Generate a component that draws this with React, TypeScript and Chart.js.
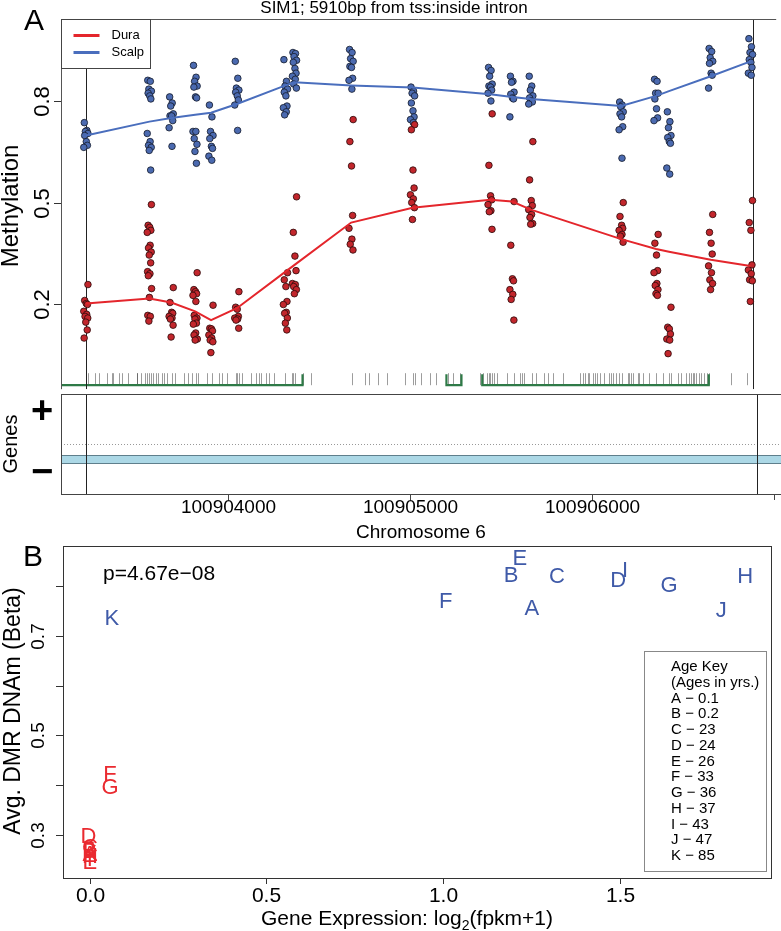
import React, { useEffect, useRef } from 'react';
import { Chart, registerables } from 'chart.js';

Chart.register(...registerables);

const FONT = '"Liberation Sans", Arial, Helvetica, sans-serif';

// ---------------- Panel A data ----------------
const TITLE_A = 'SIM1; 5910bp from tss:inside intron';
const X_LABEL_A = 'Chromosome 6';
const Y_LABEL_A = 'Methylation';
const GENES_LABEL = 'Genes';
const TISSUES = ['Dura', 'Scalp'];

const CPG_SITES = [
  100903220, 100903571, 100903692, 100903824, 100903912, 100904055, 100904324, 100904374, 100904687,
  100905027, 100905456, 100905577, 100905681, 100906181, 100906374, 100906445, 100906676, 100906896,
];

const SCALP_VALUES: number[][] = [
  [0.736, 0.713, 0.710, 0.704, 0.698, 0.680, 0.669, 0.663],
  [0.861, 0.858, 0.835, 0.829, 0.823, 0.815, 0.806, 0.704, 0.680, 0.669, 0.663, 0.654, 0.596],
  [0.812, 0.794, 0.785, 0.762, 0.756, 0.756, 0.742, 0.721, 0.666],
  [0.905, 0.870, 0.858, 0.844, 0.841, 0.812, 0.809, 0.710, 0.710, 0.689, 0.672, 0.651, 0.616],
  [0.788, 0.753, 0.710, 0.698, 0.689, 0.666, 0.660, 0.637, 0.625],
  [0.917, 0.867, 0.838, 0.832, 0.826, 0.815, 0.803, 0.788, 0.713],
  [0.922, 0.858, 0.844, 0.835, 0.826, 0.815, 0.785, 0.780, 0.768, 0.759],
  [0.943, 0.940, 0.931, 0.920, 0.914, 0.896, 0.882, 0.873, 0.864, 0.850, 0.838],
  [0.952, 0.943, 0.925, 0.917, 0.902, 0.899, 0.867, 0.861, 0.835],
  [0.841, 0.829, 0.823, 0.815, 0.794, 0.771, 0.753, 0.745, 0.736],
  [0.899, 0.890, 0.873, 0.850, 0.844, 0.841, 0.832, 0.823, 0.800],
  [0.873, 0.858, 0.855, 0.826, 0.820, 0.809, 0.806, 0.753],
  [0.873, 0.844, 0.832, 0.815, 0.809, 0.800, 0.797, 0.791],
  [0.797, 0.788, 0.783, 0.768, 0.762, 0.753, 0.724, 0.715, 0.631],
  [0.864, 0.858, 0.823, 0.823, 0.806, 0.777, 0.750, 0.742],
  [0.768, 0.739, 0.721, 0.698, 0.692, 0.680, 0.675, 0.602, 0.584],
  [0.955, 0.946, 0.928, 0.917, 0.911, 0.882, 0.876, 0.838],
  [0.984, 0.960, 0.943, 0.937, 0.922, 0.914, 0.899, 0.882, 0.876],
];

const DURA_VALUES: number[][] = [
  [0.258, 0.211, 0.202, 0.199, 0.179, 0.170, 0.164, 0.159, 0.147, 0.124, 0.100],
  [0.494, 0.433, 0.427, 0.418, 0.412, 0.374, 0.366, 0.354, 0.345, 0.322, 0.296, 0.290, 0.284, 0.246, 0.220, 0.167, 0.164, 0.150],
  [0.249, 0.205, 0.176, 0.173, 0.164, 0.159, 0.156, 0.138, 0.103],
  [0.293, 0.243, 0.237, 0.231, 0.226, 0.208, 0.167, 0.159, 0.156, 0.144, 0.141, 0.115, 0.109, 0.097, 0.094],
  [0.197, 0.129, 0.127, 0.121, 0.109, 0.100, 0.094, 0.089, 0.057],
  [0.237, 0.191, 0.185, 0.164, 0.159, 0.156, 0.153, 0.129],
  [0.293, 0.272, 0.252, 0.208, 0.199, 0.176, 0.173, 0.159, 0.144, 0.124],
  [0.517, 0.412, 0.342, 0.299, 0.261, 0.258, 0.252, 0.243, 0.231],
  [0.745, 0.680, 0.608, 0.462, 0.424, 0.392, 0.377, 0.360],
  [0.730, 0.715, 0.596, 0.543, 0.523, 0.511, 0.500, 0.485, 0.450],
  [0.762, 0.610, 0.520, 0.508, 0.494, 0.476, 0.473, 0.421],
  [0.503, 0.374, 0.275, 0.269, 0.243, 0.229, 0.214, 0.153],
  [0.680, 0.567, 0.506, 0.491, 0.479, 0.465, 0.456, 0.438, 0.436],
  [0.500, 0.459, 0.433, 0.424, 0.418, 0.406, 0.401, 0.383],
  [0.406, 0.380, 0.345, 0.299, 0.293, 0.261, 0.255, 0.243, 0.231, 0.226],
  [0.191, 0.132, 0.127, 0.112, 0.097, 0.094, 0.054],
  [0.465, 0.412, 0.380, 0.348, 0.313, 0.293, 0.272, 0.261, 0.243],
  [0.506, 0.441, 0.418, 0.316, 0.301, 0.290, 0.272, 0.269, 0.208],
];

const SCALP_SMOOTH = [0.698, 0.739, 0.750, 0.759, 0.765, 0.791, 0.846, 0.855, 0.846, 0.840, 0.820, 0.812, 0.806, 0.785, 0.815, 0.829, 0.873, 0.917];
const DURA_SMOOTH = [0.202, 0.217, 0.205, 0.179, 0.153, 0.188, 0.296, 0.316, 0.441, 0.485, 0.508, 0.503, 0.479, 0.392, 0.363, 0.355, 0.331, 0.313];

const RUG_SITES = [
  100903231, 100903269, 100903291, 100903335, 100903363, 100903368, 100903401, 100903418, 100903451, 100903500,
  100903505, 100903527, 100903544, 100903560, 100903571, 100903582, 100903593, 100903610, 100903621, 100903643,
  100903654, 100903670, 100903698, 100903714, 100903764, 100903786, 100903808, 100903830, 100903841, 100903890,
  100903918, 100903956, 100903973, 100904000, 100904049, 100904055, 100904066, 100904082, 100904132, 100904159,
  100904176, 100904187, 100904214, 100904231, 100904258, 100904319, 100904357, 100904368, 100904379, 100904418,
  100904467, 100904692, 100904764, 100904786, 100904835, 100904885, 100904984, 100905027, 100905038, 100905071,
  100905121, 100905159, 100905220, 100905253, 100905291, 100905401, 100905418, 100905440, 100905451, 100905456,
  100905467, 100905478, 100905495, 100905549, 100905588, 100905621, 100905632, 100905643, 100905687, 100905709,
  100905753, 100905775, 100905802, 100905857, 100905951, 100905967, 100905978, 100905995, 100906005, 100906022,
  100906033, 100906049, 100906066, 100906088, 100906115, 100906126, 100906137, 100906154, 100906170, 100906187,
  100906220, 100906225, 100906236, 100906247, 100906275, 100906280, 100906302, 100906335, 100906374, 100906412,
  100906445, 100906456, 100906495, 100906511, 100906538, 100906555, 100906566, 100906577, 100906582, 100906593,
  100906610, 100906621, 100906637, 100906654, 100906665, 100906786, 100906879,
];

const ISLAND_STARTS = [100902500, 100905214, 100905412];
const ISLAND_ENDS = [100904418, 100905297, 100906665];
const DMR_BOUNDS = [100903220, 100906907];
const GENE_START = 100836750;
const GENE_END = 100911551;
const GENE_STRAND = '-';

const X_TICKS_A = [100904000, 100905000, 100906000, 100907000];
const X_TICK_LABELS_A = ['100904000', '100905000', '100906000', ''];
const Y_TICKS_A = [0.2, 0.5, 0.8];
const X_MIN_A = 100903082;
const X_MAX_A = 100907038;
const Y_MIN_A = -0.051;
const Y_MAX_A = 1.042;

// small horizontal spread of replicate points (bp)
const JITTER_BP = [-9, 5, -3, 11, -7, 2, 8, -12, 4, -5, 10, -1, 7, -10, 3, -6, 12, 0];

// ---------------- Panel B data ----------------
const SAMPLES = ['A', 'B', 'C', 'D', 'E', 'F', 'G', 'H', 'I', 'J', 'K'];
const AGES = ['0.1', '0.2', '23', '24', '26', '33', '36', '37', '43', '47', '85'];
const SCALP_EXPR = [1.252, 1.193, 1.323, 1.496, 1.218, 1.008, 1.640, 1.856, 1.516, 1.788, 0.062];
const SCALP_DNAM = [0.756, 0.822, 0.820, 0.812, 0.856, 0.770, 0.802, 0.820, 0.832, 0.752, 0.736];
const DURA_EXPR = [0.0, 0.0, 0.0, -0.004, 0.0, 0.057, 0.057, 0.0, 0.0, 0.0, 0.0];
const DURA_DNAM = [0.262, 0.268, 0.276, 0.298, 0.246, 0.422, 0.396, 0.258, 0.252, 0.270, 0.265];
const P_VALUE_TEXT = 'p=4.67e\u221208';
const X_LABEL_B = ['Gene Expression: log', '2', '(fpkm+1)'];
const Y_LABEL_B = 'Avg. DMR DNAm (Beta)';
const KEY_TITLE = ['Age Key', '(Ages in yrs.)'];
const X_TICKS_B = [0, 0.5, 1.0, 1.5];
const X_TICK_LABELS_B = ['0.0', '0.5', '1.0', '1.5'];
const Y_TICKS_B = [0.3, 0.4, 0.5, 0.6, 0.7, 0.8];
const Y_TICK_LABELS_B = ['0.3', '', '0.5', '', '0.7', ''];
const X_MIN_B = -0.076;
const X_MAX_B = 1.929;
const Y_MIN_B = 0.214;
const Y_MAX_B = 0.88;

// ---------------- styles ----------------
const RED_LINE = '#e4262c';
const BLUE_LINE = '#4a6ebd';
const RED_PT = '#c2262c';
const BLUE_PT = '#4b6ab0';
const RED_TXT = '#ea2a30';
const BLUE_TXT = '#3f5aa8';

function rotText(ctx: CanvasRenderingContext2D, text: string, x: number, y: number, font: string) {
  ctx.save();
  ctx.translate(x, y);
  ctx.rotate(-Math.PI / 2);
  ctx.font = font;
  ctx.textAlign = 'center';
  ctx.textBaseline = 'middle';
  ctx.fillText(text, 0, 0);
  ctx.restore();
}

function hline(ctx: CanvasRenderingContext2D, x1: number, x2: number, y: number) {
  ctx.beginPath();
  ctx.moveTo(x1, y);
  ctx.lineTo(x2, y);
  ctx.stroke();
}
function vline(ctx: CanvasRenderingContext2D, x: number, y1: number, y2: number) {
  ctx.beginPath();
  ctx.moveTo(x, y1);
  ctx.lineTo(x, y2);
  ctx.stroke();
}

const panelAPlugin = {
  id: 'panelA',
  beforeDatasetsDraw(chart: any) {
    const { ctx, chartArea: ca } = chart;
    const xs = chart.scales.x;
    ctx.save();
    ctx.beginPath();
    ctx.rect(ca.left, ca.top, ca.right - ca.left, ca.bottom - ca.top);
    ctx.clip();
    ctx.strokeStyle = 'rgba(60,60,60,0.5)';
    ctx.lineWidth = 1;
    for (const p of RUG_SITES) {
      const x = Math.round(xs.getPixelForValue(p)) + 0.5;
      vline(ctx, x, ca.bottom - 16, ca.bottom - 4);
    }
    ctx.strokeStyle = '#2e7a47';
    ctx.lineWidth = 2.2;
    ISLAND_STARTS.forEach((s, i) => {
      const x1 = xs.getPixelForValue(s);
      const x2 = xs.getPixelForValue(ISLAND_ENDS[i]);
      ctx.beginPath();
      ctx.moveTo(x1, ca.bottom - 15);
      ctx.lineTo(x1, ca.bottom - 4);
      ctx.lineTo(x2, ca.bottom - 4);
      ctx.lineTo(x2, ca.bottom - 15);
      ctx.stroke();
    });
    ctx.strokeStyle = '#222';
    ctx.lineWidth = 1;
    for (const d of DMR_BOUNDS) {
      const x = Math.round(xs.getPixelForValue(d)) + 0.5;
      vline(ctx, x, ca.top, ca.bottom);
    }
    ctx.restore();
  },
  afterDraw(chart: any) {
    const { ctx, chartArea: ca } = chart;
    const ys = chart.scales.y;
    ctx.save();
    ctx.strokeStyle = '#555';
    ctx.lineWidth = 1;
    vline(ctx, ca.left + 0.5, ca.top, ca.bottom);
    hline(ctx, ca.left, ca.right, ca.top + 0.5);
    ctx.fillStyle = '#000';
    // title
    ctx.font = `17px ${FONT}`;
    ctx.textAlign = 'center';
    ctx.textBaseline = 'middle';
    ctx.fillText(TITLE_A, 394, 8);
    // panel letter
    ctx.font = `30px ${FONT}`;
    ctx.fillText('A', 34, 22);
    // y label
    rotText(ctx, Y_LABEL_A, 11, 206, `24px ${FONT}`);
    // y ticks
    ctx.strokeStyle = '#333';
    for (const v of Y_TICKS_A) {
      const y = Math.round(ys.getPixelForValue(v)) + 0.5;
      hline(ctx, ca.left - 7, ca.left, y);
      rotText(ctx, v.toFixed(1), 43, y, `22px ${FONT}`);
    }
    // legend
    const lx = ca.left + 0.5, ly = ca.top + 0.5;
    ctx.fillStyle = '#fff';
    ctx.fillRect(lx, ly, 89, 49);
    ctx.strokeStyle = '#444';
    ctx.strokeRect(lx, ly, 89, 49);
    const colors = [RED_LINE, BLUE_LINE];
    TISSUES.forEach((t, i) => {
      const yy = ly + 16 + i * 17;
      ctx.strokeStyle = colors[i];
      ctx.lineWidth = 3;
      hline(ctx, lx + 12, lx + 38, yy);
      ctx.fillStyle = '#000';
      ctx.font = `13px ${FONT}`;
      ctx.textAlign = 'left';
      ctx.textBaseline = 'middle';
      ctx.fillText(t, lx + 50, yy);
    });
    ctx.restore();
  },
};

const genesPlugin = {
  id: 'genes',
  afterDraw(chart: any) {
    const { ctx, chartArea: ca } = chart;
    const xs = chart.scales.x;
    const ys = chart.scales.y;
    ctx.save();
    // dotted strand separator
    ctx.strokeStyle = '#999';
    ctx.lineWidth = 1;
    ctx.setLineDash([1, 2]);
    hline(ctx, ca.left + 3, ca.right, Math.round(ys.getPixelForValue(0.5)) + 0.5);
    ctx.setLineDash([]);
    // gene band (minus strand -> lower half)
    const x1 = Math.max(ca.left, xs.getPixelForValue(GENE_START));
    const x2 = Math.min(ca.right, xs.getPixelForValue(GENE_END));
    const yTop = GENE_STRAND === '-' ? ys.getPixelForValue(0.39) : ys.getPixelForValue(0.7);
    const yBot = GENE_STRAND === '-' ? ys.getPixelForValue(0.3) : ys.getPixelForValue(0.61);
    ctx.fillStyle = '#acd8e6';
    ctx.fillRect(x1, yTop, x2 - x1, yBot - yTop);
    ctx.strokeStyle = '#5f7f8c';
    hline(ctx, x1, x2, Math.round(yTop) + 0.5);
    hline(ctx, x1, x2, Math.round(yBot) - 0.5);
    // DMR bounds
    ctx.strokeStyle = '#222';
    for (const d of DMR_BOUNDS) {
      const x = Math.round(xs.getPixelForValue(d)) + 0.5;
      vline(ctx, x, ca.top, ca.bottom);
    }
    // box
    ctx.strokeStyle = '#444';
    vline(ctx, ca.left + 0.5, ca.top, ca.bottom);
    hline(ctx, ca.left, ca.right, ca.top + 0.5);
    hline(ctx, ca.left, ca.right, ca.bottom + 0.5);
    // x axis
    ctx.fillStyle = '#000';
    ctx.font = `19px ${FONT}`;
    ctx.textAlign = 'center';
    ctx.textBaseline = 'middle';
    X_TICKS_A.forEach((t, i) => {
      const x = Math.round(xs.getPixelForValue(t)) + 0.5;
      vline(ctx, x, ca.bottom, ca.bottom + 6);
      if (X_TICK_LABELS_A[i]) ctx.fillText(X_TICK_LABELS_A[i], x, ca.bottom + 14);
    });
    ctx.fillText(X_LABEL_A, (ca.left + ca.right) / 2, ca.bottom + 39);
    // strand labels
    rotText(ctx, GENES_LABEL, 11, 50, `20px ${FONT}`);
    ctx.font = `bold 38px ${FONT}`;
    ctx.textAlign = 'center';
    ctx.textBaseline = 'middle';
    ctx.fillText('+', 42, 19);
    ctx.fillText('\u2212', 42, 80);
    ctx.restore();
  },
};

const panelBPlugin = {
  id: 'panelB',
  afterDatasetsDraw(chart: any) {
    const { ctx } = chart;
    const labelsets = [SAMPLES, SAMPLES];
    const colors = [RED_TXT, BLUE_TXT];
    ctx.save();
    ctx.font = `22px ${FONT}`;
    ctx.textAlign = 'center';
    ctx.textBaseline = 'middle';
    chart.data.datasets.forEach((_ds: any, di: number) => {
      const meta = chart.getDatasetMeta(di);
      ctx.fillStyle = colors[di];
      meta.data.forEach((el: any, j: number) => {
        ctx.fillText(labelsets[di][j], el.x, el.y + 1);
      });
    });
    ctx.restore();
  },
  afterDraw(chart: any) {
    const { ctx, chartArea: ca } = chart;
    const xs = chart.scales.x;
    const ys = chart.scales.y;
    ctx.save();
    ctx.strokeStyle = '#333';
    ctx.lineWidth = 1;
    ctx.strokeRect(ca.left + 0.5, ca.top + 0.5, ca.right - ca.left, ca.bottom - ca.top);
    ctx.fillStyle = '#000';
    ctx.textAlign = 'center';
    ctx.textBaseline = 'middle';
    ctx.font = `21px ${FONT}`;
    X_TICKS_B.forEach((t, i) => {
      const x = Math.round(xs.getPixelForValue(t)) + 0.5;
      vline(ctx, x, ca.bottom, ca.bottom + 6);
      ctx.fillText(X_TICK_LABELS_B[i], x, ca.bottom + 18);
    });
    Y_TICKS_B.forEach((t, i) => {
      const y = Math.round(ys.getPixelForValue(t)) + 0.5;
      hline(ctx, ca.left - 7, ca.left, y);
      if (Y_TICK_LABELS_B[i]) rotText(ctx, Y_TICK_LABELS_B[i], 38.5, y, `19px ${FONT}`);
    });
    // panel letter
    ctx.font = `30px ${FONT}`;
    ctx.fillText('B', 33, 14);
    // p value
    ctx.font = `21px ${FONT}`;
    ctx.textAlign = 'left';
    ctx.fillText(P_VALUE_TEXT, 103, 30);
    // axis titles
    rotText(ctx, Y_LABEL_B, 14, 167, `23px ${FONT}`);
    const big = `21px ${FONT}`;
    const small = `14px ${FONT}`;
    ctx.font = big;
    const w0 = ctx.measureText(X_LABEL_B[0]).width;
    const w2 = ctx.measureText(X_LABEL_B[2]).width;
    ctx.font = small;
    const w1 = ctx.measureText(X_LABEL_B[1]).width;
    let sx = 407 - (w0 + w1 + w2) / 2;
    const base = 381;
    ctx.textBaseline = 'alphabetic';
    ctx.textAlign = 'left';
    ctx.font = big;
    ctx.fillText(X_LABEL_B[0], sx, base);
    sx += w0;
    ctx.font = small;
    ctx.fillText(X_LABEL_B[1], sx, base + 5);
    sx += w1;
    ctx.font = big;
    ctx.fillText(X_LABEL_B[2], sx, base);
    // age key
    ctx.fillStyle = '#fff';
    ctx.fillRect(644.5, 107.5, 122, 220);
    ctx.strokeStyle = '#888';
    ctx.strokeRect(644.5, 107.5, 122, 220);
    ctx.fillStyle = '#000';
    ctx.font = `15px ${FONT}`;
    ctx.textBaseline = 'middle';
    const lines = [...KEY_TITLE, ...SAMPLES.map((s, i) => `${s} \u2212 ${AGES[i]}`)];
    lines.forEach((l, i) => ctx.fillText(l, 671, 123 + i * 15.75));
    ctx.restore();
  },
};

function yAxisFixed(width: number, min: number, max: number) {
  return {
    type: 'linear' as const,
    min,
    max,
    display: true,
    grid: { display: false },
    border: { display: false },
    ticks: { display: false },
    afterFit: (s: any) => {
      s.width = width;
    },
  };
}

export default function App() {
  const refA = useRef<HTMLCanvasElement>(null);
  const refG = useRef<HTMLCanvasElement>(null);
  const refB = useRef<HTMLCanvasElement>(null);

  useEffect(() => {
    const charts: Chart[] = [];
    const scalpPts: { x: number; y: number }[] = [];
    const duraPts: { x: number; y: number }[] = [];
    CPG_SITES.forEach((pos, i) => {
      SCALP_VALUES[i].forEach((v, j) => scalpPts.push({ x: pos + JITTER_BP[j % JITTER_BP.length], y: v }));
      DURA_VALUES[i].forEach((v, j) => duraPts.push({ x: pos + JITTER_BP[(j + 3) % JITTER_BP.length], y: v }));
    });
    const common = {
      responsive: false,
      animation: false as const,
      devicePixelRatio: 1,
      events: [] as any[],
      plugins: { legend: { display: false }, tooltip: { enabled: false }, title: { display: false } },
    };

    charts.push(
      new Chart(refA.current!, {
        type: 'scatter',
        data: {
          datasets: [
            {
              label: 'Dura smooth',
              data: CPG_SITES.map((x, i) => ({ x, y: DURA_SMOOTH[i] })),
              showLine: true,
              borderColor: RED_LINE,
              borderWidth: 2,
              pointRadius: 0,
            },
            {
              label: 'Scalp smooth',
              data: CPG_SITES.map((x, i) => ({ x, y: SCALP_SMOOTH[i] })),
              showLine: true,
              borderColor: BLUE_LINE,
              borderWidth: 2,
              pointRadius: 0,
            },
            {
              label: 'Dura',
              data: duraPts,
              pointRadius: 3.3,
              pointBackgroundColor: RED_PT,
              pointBorderColor: '#2a0a0a',
              pointBorderWidth: 0.8,
            },
            {
              label: 'Scalp',
              data: scalpPts,
              pointRadius: 3.3,
              pointBackgroundColor: BLUE_PT,
              pointBorderColor: '#141a2a',
              pointBorderWidth: 0.8,
            },
          ],
        },
        options: {
          ...common,
          layout: { padding: { top: 19, left: 0, right: 0, bottom: 0 } },
          scales: {
            x: { type: 'linear', min: X_MIN_A, max: X_MAX_A, display: false },
            y: yAxisFixed(61, Y_MIN_A, Y_MAX_A),
          },
        } as any,
        plugins: [panelAPlugin],
      })
    );

    charts.push(
      new Chart(refG.current!, {
        type: 'scatter',
        data: { datasets: [] },
        options: {
          ...common,
          layout: { padding: { top: 0, left: 0, right: 0, bottom: 50 } },
          scales: {
            x: { type: 'linear', min: X_MIN_A, max: X_MAX_A, display: false },
            y: yAxisFixed(61, 0, 1),
          },
        } as any,
        plugins: [genesPlugin],
      })
    );

    charts.push(
      new Chart(refB.current!, {
        type: 'scatter',
        data: {
          datasets: [
            { label: 'Dura', data: DURA_EXPR.map((x, i) => ({ x, y: DURA_DNAM[i] })), pointRadius: 0 },
            { label: 'Scalp', data: SCALP_EXPR.map((x, i) => ({ x, y: SCALP_DNAM[i] })), pointRadius: 0 },
          ],
        },
        options: {
          ...common,
          layout: { padding: { top: 2, left: 0, right: 10, bottom: 53 } },
          scales: {
            x: { type: 'linear', min: X_MIN_B, max: X_MAX_B, display: false },
            y: yAxisFixed(63, Y_MIN_B, Y_MAX_B),
          },
        } as any,
        plugins: [panelBPlugin],
      })
    );

    return () => charts.forEach((c) => c.destroy());
  }, []);

  return (
    <div style={{ position: 'absolute', left: 0, top: 0, width: 781, height: 931, background: '#fff', overflow: 'hidden' }}>
      <canvas ref={refA} width={781} height={394} style={{ position: 'absolute', left: 0, top: 0 }} />
      <canvas ref={refG} width={781} height={150} style={{ position: 'absolute', left: 0, top: 394 }} />
      <canvas ref={refB} width={781} height={387} style={{ position: 'absolute', left: 0, top: 544 }} />
    </div>
  );
}
